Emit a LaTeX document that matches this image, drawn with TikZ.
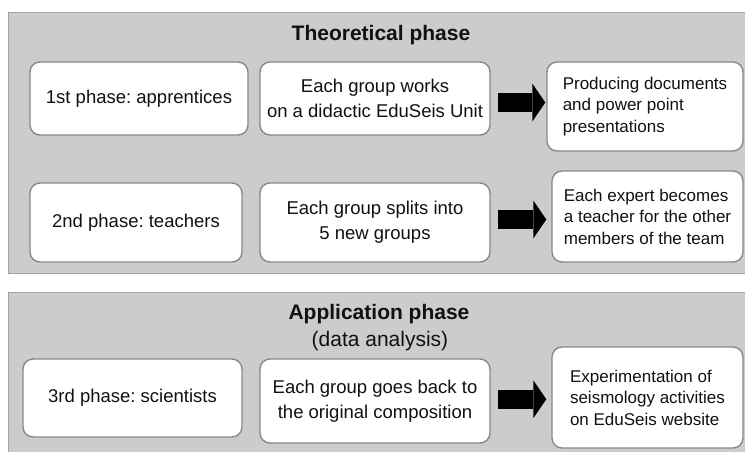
\documentclass[tikz,border=0pt]{standalone}
\usepackage{fontspec}
\setmainfont{Liberation Sans}
\usetikzlibrary{arrows.meta}
\frenchspacing

\definecolor{panelgray}{HTML}{CCCCCC}
\definecolor{paneledge}{HTML}{A3A3A3}
\definecolor{boxedge}{HTML}{888888}
\definecolor{ink}{HTML}{111111}

\begin{document}
\begin{tikzpicture}[x=1pt,y=-1pt,
  panel/.style={fill=panelgray, draw=paneledge, line width=0.9pt},
  box/.style={draw=boxedge, fill=white, line width=1.4pt, rounded corners=10pt,
    inner sep=4pt, align=center, text=ink, font=\fontsize{18.5}{25}\selectfont},
  outbox/.style={box, align=left, font=\fontsize{17}{21.5}\selectfont},
  fat/.style={black, line width=19pt,
    -{Triangle[length=13pt,width=38pt,line width=0pt]}},
  title/.style={text=ink, font=\fontsize{21}{26}\selectfont\bfseries},
  subtitle/.style={text=ink, font=\fontsize{21}{26}\selectfont}
]
\useasboundingbox (0,0) rectangle (745,451);

% the two phase panels
\path[panel] (8,12) rectangle (755,273);
\path[panel] (8,292) rectangle (755,465);

% panel headings
\node[title] (theo) at (381,35) {Theoretical phase};
\node[title] (appl) at (379,314) {Application phase};
\node[subtitle] (appsub) at (380,341) {(data analysis)};

% first row
\node[box, minimum width=218, minimum height=73] (b1) at (139,98.5) {1st phase: apprentices};
\node[box, minimum width=230, minimum height=73] (b2) at (375,98.5) {Each group works\\on a didactic EduSeis Unit};
\node[outbox, minimum width=196, minimum height=89] (b3) at (645,106.5) {Producing documents\\and power point\\presentations};

% second row
\node[box, minimum width=212, minimum height=79] (b4) at (136,222.5) {2nd phase: teachers};
\node[box, minimum width=230, minimum height=79] (b5) at (375,222.5) {Each group splits into\\5 new groups};
\node[outbox, minimum width=191, minimum height=91] (b6) at (647.5,216.5) {Each expert becomes\\a teacher for the other\\members of the team};

% third row
\node[box, minimum width=219, minimum height=78] (b7) at (132.5,398) {3rd phase: scientists};
\node[box, minimum width=230, minimum height=84] (b8) at (375,401) {Each group goes back to\\the original composition};
\node[outbox, minimum width=191, minimum height=101] (b9) at (647.5,397.5) {Experimentation of\\seismology activities\\on EduSeis website};

% fat arrows between the second and third columns
\path (b2.east) -- (b3.west) coordinate[pos=0.5] (m1);
\path (b5.east) -- (b6.west) coordinate[pos=0.5] (m2);
\path (b8.east) -- (b9.west) coordinate[pos=0.5] (m3);
\draw[fat, shorten <=7pt, shorten >=1pt] (b2.east |- m1) -- (b3.west |- m1);
\draw[fat, shorten <=7pt, shorten >=5pt] (b5.east |- m2) -- (b6.west |- m2);
\draw[fat, shorten <=7pt, shorten >=5pt] (b8.east |- m3) -- (b9.west |- m3);
\end{tikzpicture}
\end{document}
